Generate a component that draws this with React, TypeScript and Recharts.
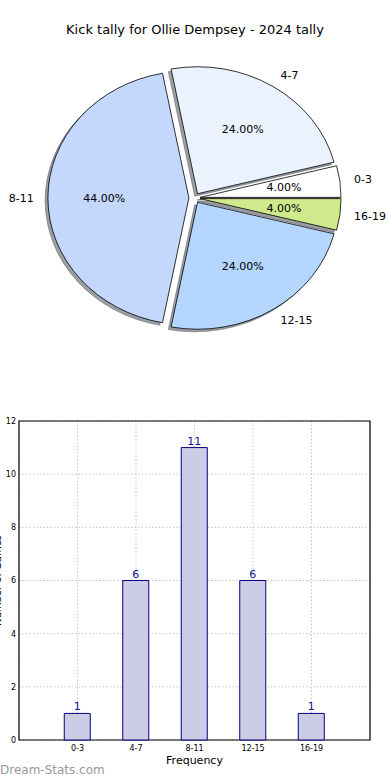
import React from 'react';
import { PieChart, Pie, BarChart, Bar, XAxis, YAxis, CartesianGrid, LabelList, ReferenceArea } from 'recharts';

const title = 'Kick tally for Ollie Dempsey - 2024 tally';
const categories = ['0-3', '4-7', '8-11', '12-15', '16-19'];
const counts = [1, 6, 11, 6, 1];
const sliceColors = ['#ffffff', '#eaf2fe', '#c4d8fe', '#b4d5fe', '#cfea8b'];
const yTicks = [0, 2, 4, 6, 8, 10, 12];
const xTicks = [0, 1, 2, 3, 4];
const xDomain = [-1, 5];
const yDomain = [0, 12];
const xLabel = 'Frequency';
const yLabel = 'Number of Games';
const watermark = 'Dream-Stats.com';

const pieData = categories.map((c, i) => ({ name: c, value: counts[i], fill: sliceColors[i] }));
const barData = categories.map((c, i) => ({ idx: i, name: c, value: counts[i] }));

const FONT = 'DejaVu Sans';
const K = 127 / 141;
const EXPLODE = 5.6;
const SH_DX = -2.8;
const SH_DY = 2.5;
const RAD = Math.PI / 180;

function wedge(props: any, dx: number, dy: number) {
  const { cx, cy, outerRadius, startAngle, endAngle } = props;
  const mid = (startAngle + endAngle) / 2;
  const ccx = cx + EXPLODE * Math.cos(mid * RAD) + dx;
  const ccy = cy - EXPLODE * K * Math.sin(mid * RAD) + dy;
  const rx = outerRadius;
  const ry = outerRadius * K;
  const x0 = ccx + rx * Math.cos(startAngle * RAD);
  const y0 = ccy - ry * Math.sin(startAngle * RAD);
  const x1 = ccx + rx * Math.cos(endAngle * RAD);
  const y1 = ccy - ry * Math.sin(endAngle * RAD);
  const large = endAngle - startAngle > 180 ? 1 : 0;
  return `M ${ccx} ${ccy} L ${x0} ${y0} A ${rx} ${ry} 0 ${large} 0 ${x1} ${y1} Z`;
}

const SliceShape = (props: any) => (
  <path d={wedge(props, 0, 0)} fill={props.fill} stroke="#000" strokeWidth={0.8} strokeLinejoin="round" />
);

const ShadowShape = (props: any) => (
  <path d={wedge(props, SH_DX, SH_DY)} fill="#3a3f48" fillOpacity={0.5} stroke="#3a3f48" strokeOpacity={0.5} strokeWidth={0.8} />
);

const renderPieLabel = (props: any) => {
  const { cx, cy, midAngle, outerRadius, percent, name } = props;
  const c = Math.cos(midAngle * RAD);
  const s = Math.sin(midAngle * RAD);
  const ccx = cx + EXPLODE * c;
  const ccy = cy - EXPLODE * K * s;
  const rx = outerRadius;
  const ry = outerRadius * K;
  return (
    <g>
      <text
        x={ccx + 1.1 * rx * c}
        y={ccy - 1.1 * ry * s}
        textAnchor={c > 0 ? 'start' : 'end'}
        dominantBaseline="central"
        fontSize={11}
        fontFamily={FONT}
        fill="#000"
      >
        {name}
      </text>
      <text
        x={ccx + 0.6 * rx * c}
        y={ccy - 0.6 * ry * s}
        textAnchor="middle"
        dominantBaseline="central"
        fontSize={11}
        fontFamily={FONT}
        fill="#000"
      >
        {(percent * 100).toFixed(2) + '%'}
      </text>
    </g>
  );
};

export default function App() {
  return (
    <div style={{ position: 'absolute', left: 0, top: 0, width: 390, height: 780, background: '#fff', fontFamily: FONT }}>
      <div style={{ position: 'absolute', left: 0, top: 22, width: 390, textAlign: 'center', fontSize: 13, lineHeight: '16px', color: '#000' }}>
        {title}
      </div>
      <div style={{ position: 'absolute', left: 0, top: 0 }}>
        <PieChart width={390} height={390} margin={{ top: 0, right: 0, bottom: 0, left: 0 }}>
          <Pie
            data={pieData}
            dataKey="value"
            nameKey="name"
            cx={194.5}
            cy={198}
            outerRadius={141}
            startAngle={0}
            endAngle={360}
            shape={ShadowShape}
            label={false}
            labelLine={false}
            isAnimationActive={false}
          />
          <Pie
            data={pieData}
            dataKey="value"
            nameKey="name"
            cx={194.5}
            cy={198}
            outerRadius={141}
            startAngle={0}
            endAngle={360}
            shape={SliceShape}
            label={renderPieLabel}
            labelLine={false}
            isAnimationActive={false}
          />
        </PieChart>
      </div>
      <div style={{ position: 'absolute', left: 0, top: 400 }}>
        <BarChart width={390} height={380} data={barData} margin={{ top: 21, right: 20, bottom: 0, left: 0 }}>
          <CartesianGrid stroke="#c4c4c4" strokeDasharray="1.5 2" />
          <XAxis
            dataKey="idx"
            type="number"
            domain={xDomain}
            ticks={xTicks}
            tickFormatter={(v: number) => categories[v]}
            height={40}
            tickSize={3}
            tickMargin={2}
            tickLine={false}
            axisLine={false}
            tick={{ fontSize: 8, fill: '#000', fontFamily: FONT }}
            label={(p: any) => {
              const vb = p.viewBox;
              return (
                <text x={vb.x + vb.width / 2} y={vb.y + 24} textAnchor="middle" fontSize={11} fontFamily={FONT} fill="#000">
                  {xLabel}
                </text>
              );
            }}
          />
          <YAxis
            domain={yDomain}
            ticks={yTicks}
            width={19}
            tickSize={0}
            tickMargin={3}
            tickLine={false}
            axisLine={false}
            tick={{ fontSize: 8, fill: '#000', fontFamily: FONT }}
            label={(p: any) => {
              const vb = p.viewBox;
              const y = vb.y + vb.height / 2;
              const x = vb.x + 1;
              return (
                <text x={x} y={y} transform={`rotate(-90 ${x} ${y})`} textAnchor="middle" fontSize={10} fontFamily={FONT} fill="#000">
                  {yLabel}
                </text>
              );
            }}
          />
          <ReferenceArea x1={xDomain[0]} x2={xDomain[1]} y1={yDomain[0]} y2={yDomain[1]} fill="none" stroke="#000" strokeWidth={1.2} ifOverflow="visible" />
          <Bar dataKey="value" barSize={26} fill="#ccccE6" stroke="#000080" strokeWidth={1} isAnimationActive={false}>
            <LabelList dataKey="value" position="top" offset={3} fill="#101090" fontSize={11} fontFamily={FONT} />
          </Bar>
        </BarChart>
      </div>
      <div style={{ position: 'absolute', left: 0, top: 763, fontSize: 12, lineHeight: '14px', color: '#999' }}>
        {watermark}
      </div>
    </div>
  );
}
